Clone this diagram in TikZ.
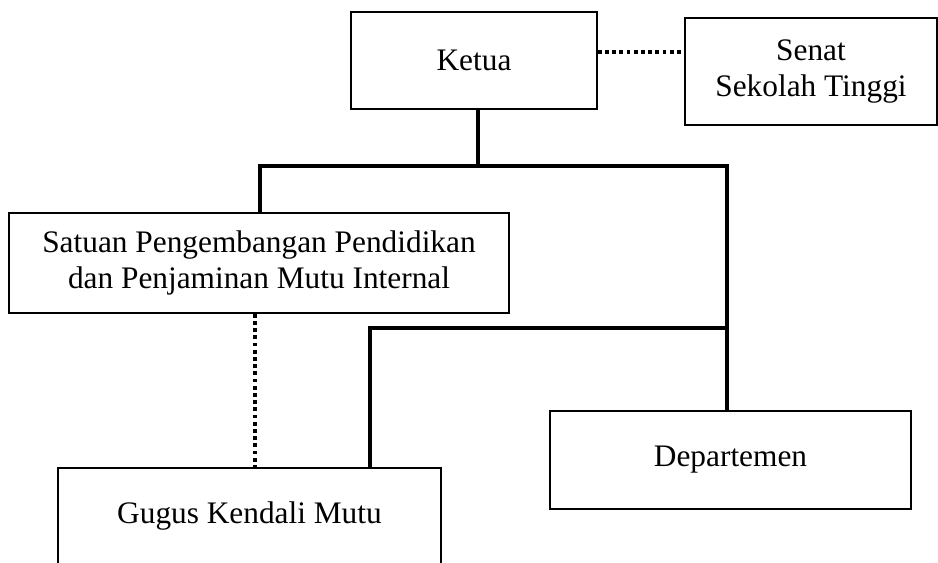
\documentclass[tikz,border=0pt]{standalone}
\usepackage{fontspec}
\setmainfont{Liberation Serif}
\def\pxu{0.75pt}
\tikzset{
  orgbox/.style={draw=black, line width=1.3pt, fill=white, inner sep=0pt, align=center,
    font=\fontsize{23.5}{27.5}\selectfont},
  orgline/.style={draw=black, line width=2.7pt, line join=miter, line cap=rect},
  dotline/.style={draw=black, line width=2.8pt, dash pattern=on 2.8pt off 2.6pt}
}
\begin{document}
\begin{tikzpicture}[x=0.75pt, y=-0.75pt]
\useasboundingbox (0,0) rectangle (938,563);
\clip (0,0) rectangle (938,563);
% boxes
\node[orgbox, minimum width=246*\pxu, minimum height=97*\pxu] (ketua) at (474,60.5) {Ketua};
\node[orgbox, minimum width=252*\pxu, minimum height=107*\pxu] (senat) at (811,71.5) {Senat\\Sekolah Tinggi};
\node[orgbox, minimum width=500*\pxu, minimum height=100*\pxu] (sppmi) at (259,263) {Satuan Pengembangan Pendidikan\\dan Penjaminan Mutu Internal};
\node[orgbox, minimum width=361*\pxu, minimum height=98*\pxu] (dept) at (730.5,460) {Departemen};
\node[orgbox, anchor=north, minimum width=383*\pxu, text height=56*\pxu, text depth=80*\pxu] (gugus) at (249.5,467) {Gugus Kendali Mutu};
% junction points
\coordinate (kx) at (478,0);
\coordinate (dy) at (0,52);
\coordinate (hl) at (260,166);
\coordinate (hr) at (727,166);
\coordinate (hm) at (727,328);
\coordinate (gl) at (370,328);
\coordinate (dx) at (255,0);
% connectors
\draw[dotline] (ketua.east |- dy) -- (senat.west |- dy);
\draw[orgline] (ketua.south -| kx) -- (kx |- hl);
\draw[orgline] (sppmi.north -| hl) -- (hl) -- (hr) -- (dept.north -| hr);
\draw[orgline] (hm) -- (gl) -- ([yshift=1.5pt]gugus.north -| gl);
\draw[dotline] (sppmi.south -| dx) -- (gugus.north -| dx);
\end{tikzpicture}
\end{document}
